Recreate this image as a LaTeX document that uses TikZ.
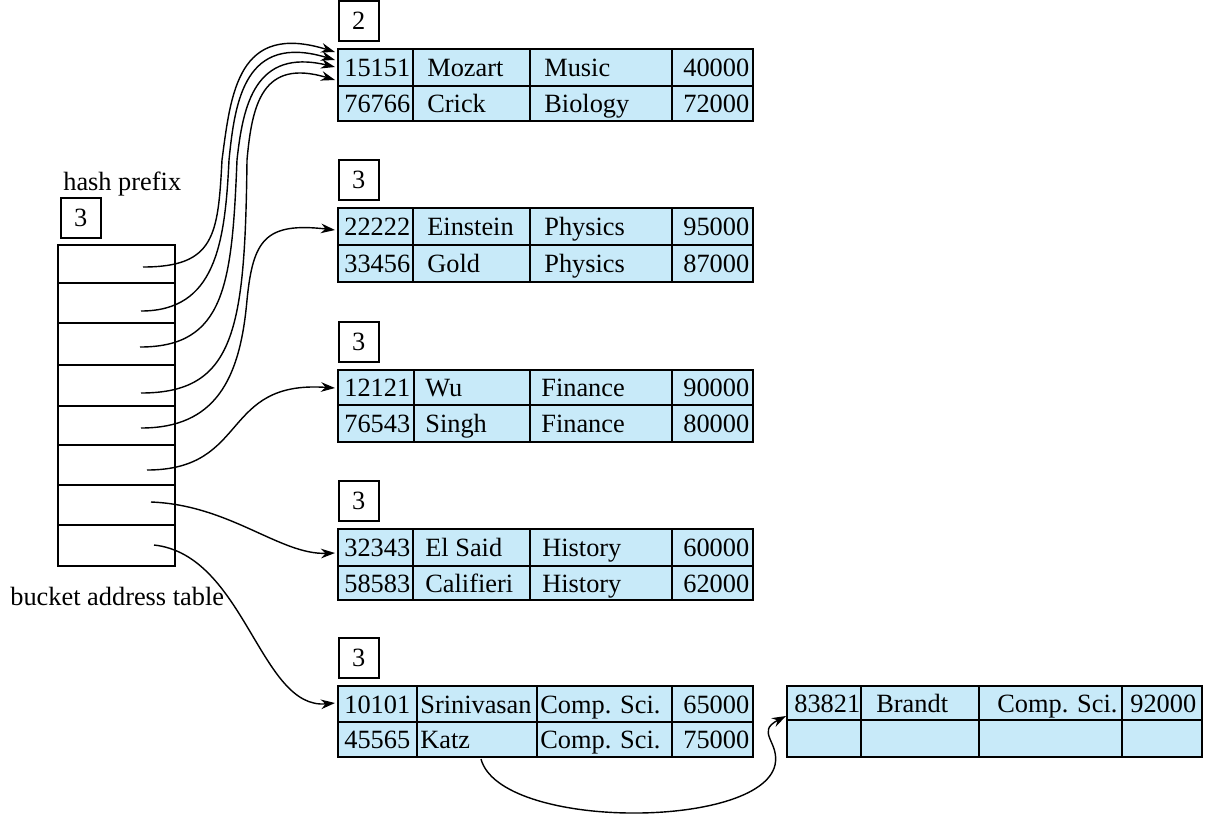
\documentclass[tikz,border=0pt]{standalone}
\usepackage{fontspec}
\setmainfont{Liberation Serif}
\usetikzlibrary{arrows.meta}
\definecolor{cellblue}{RGB}{200,234,249}
\tikzset{
  frame/.style={line width=0.9pt},
  depthbox/.style={draw, line width=0.9pt, minimum width=0.8cm, minimum height=0.8cm, inner sep=0pt, anchor=south west},
  celltext/.style={anchor=base west, inner sep=0pt},
  ptr/.style={-{Stealth[length=8pt,width=5.5pt]}, line width=0.8pt}
}
\begin{document}
\begin{tikzpicture}[x=0.02cm, y=-0.02cm, font=\fontsize{15}{17}\selectfont]
  \useasboundingbox (0,0) rectangle (1214,816);

  % bucket address table
  \node[celltext] (hp) at (63,190) {hash prefix};
  \node[depthbox] (gd) at (60,239) {3};
  \draw[frame] (58,245) rectangle (175,566);
  \foreach \y in {283,323,365,406,445,485,525}
    \draw[frame] (58,\y) -- (175,\y);
  \node[celltext] (bat) at (10,605) {bucket address table};

  % buckets
  \foreach \b/\t/\m/\u/\ca/\cb/\o/\d/\ka/\na/\da/\sa/\kb/\nb/\db/\sb in {
      1/49/86/121/413/530/14/2/15151/Mozart/Music/40000/76766/Crick/Biology/72000,
      2/208/245/282/413/530/14/3/22222/Einstein/Physics/95000/33456/Gold/Physics/87000,
      3/370/405/442/414/530/11/3/12121/Wu/Finance/90000/76543/Singh/Finance/80000,
      4/529/566/600/413/530/12/3/32343/El Said/History/60000/58583/Califieri/History/62000,
      5/686/722/757/417/537/3/3/10101/Srinivasan/Comp. Sci./65000/45565/Katz/Comp. Sci./75000} {
    \draw[frame, fill=cellblue] (338,\t) rectangle (753,\u);
    \draw[frame] (338,\m) -- (753,\m) (\ca,\t) -- (\ca,\u)
      (\cb,\t) -- (\cb,\u) (672,\t) -- (672,\u);
    \node[depthbox] (d\b) at (338,\t-7) {\d};
    \node[celltext] (k\b-1) at (344,{(\t+\m)/2+9}) {\ka};
    \node[celltext] (n\b-1) at (\ca+\o,{(\t+\m)/2+9}) {\na};
    \node[celltext] (p\b-1) at (\cb+\o,{(\t+\m)/2+9}) {\da};
    \node[celltext] (s\b-1) at (683,{(\t+\m)/2+9}) {\sa};
    \node[celltext] (k\b-2) at (344,{(\m+\u)/2+9}) {\kb};
    \node[celltext] (n\b-2) at (\ca+\o,{(\m+\u)/2+9}) {\nb};
    \node[celltext] (p\b-2) at (\cb+\o,{(\m+\u)/2+9}) {\db};
    \node[celltext] (s\b-2) at (683,{(\m+\u)/2+9}) {\sb};
  }

  % overflow bucket
  \draw[frame, fill=cellblue] (787,686) rectangle (1202,757);
  \draw[frame] (787,720) -- (1202,720) (861,686) -- (861,757)
    (979,686) -- (979,757) (1122,686) -- (1122,757);
  \node[celltext] (ok) at (794,712) {83821};
  \node[celltext] (on) at (876,712) {Brandt};
  \node[celltext] (op) at (997,712) {Comp. Sci.};
  \node[celltext] (os) at (1130,712) {92000};

  % pointer ends
  \coordinate (s1) at (143,267);
  \coordinate (s2) at (141,311);
  \coordinate (s3) at (140,347);
  \coordinate (s4) at (141,393);
  \coordinate (s5) at (141,428);
  \coordinate (s6) at (147,470);
  \coordinate (s7) at (151,502);
  \coordinate (s8) at (154,545);
  \coordinate (e1) at (335,52);
  \coordinate (e2) at (335,60);
  \coordinate (e3) at (335,67);
  \coordinate (e4) at (335,80);
  \coordinate (e5) at (335,230);
  \coordinate (e6) at (335,388);
  \coordinate (e7) at (335,553);
  \coordinate (e8) at (335,703);
  \coordinate (katz) at (481,759);
  \coordinate (ov) at (786,716);

  \draw[ptr] (s1) .. controls (215,267) and (218,235) .. (222,160)
    .. controls (231,92) and (238,22) .. (e1);
  \draw[ptr] (s2) .. controls (215,311) and (225,245) .. (229,160)
    .. controls (235,100) and (245,33) .. (e2);
  \draw[ptr] (s3) .. controls (225,347) and (232,285) .. (237,160)
    .. controls (243,105) and (255,48) .. (e3);
  \draw[ptr] (s4) .. controls (235,393) and (245,330) .. (247,160)
    .. controls (252,105) and (262,58) .. (e4);
  \draw[ptr] (s5) .. controls (215,428) and (240,380) .. (247,300)
    .. controls (253,240) and (265,222) .. (e5);
  \draw[ptr] (s6) .. controls (250,470) and (220,380) .. (e6);
  \draw[ptr] (s7) .. controls (230,505) and (280,555) .. (e7);
  \draw[ptr] (s8) .. controls (245,555) and (260,710) .. (e8);
  \draw[ptr] (katz) .. controls (500,830) and (760,830) .. (775,765)
    .. controls (780,742) and (755,732) .. (ov);
\end{tikzpicture}
\end{document}
